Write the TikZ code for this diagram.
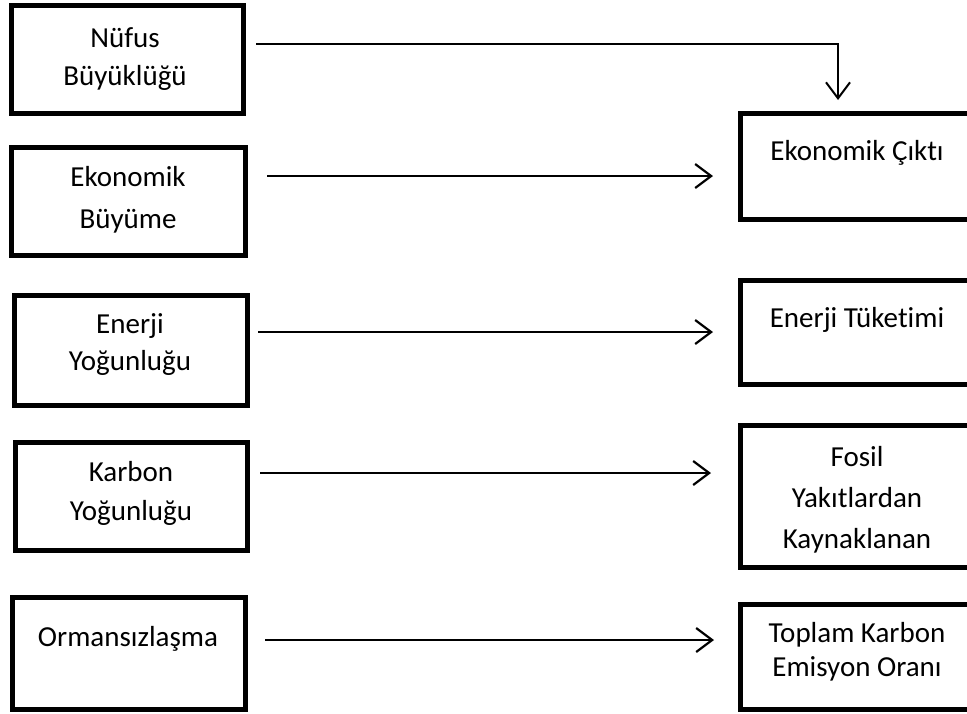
\documentclass[tikz,border=0pt]{standalone}
\usepackage{fontspec}
\setmainfont{Carlito}[Ligatures={NoCommon}]
\usetikzlibrary{arrows.meta}
\tikzset{
  box/.style={draw, line width=5pt, rectangle, inner sep=0pt, line join=miter},
  txt/.style={font=\fontsize{29}{35}\selectfont, anchor=base, inner sep=0pt},
  arr/.style={line width=2.2pt, -{Straight Barb[length=16pt,width=24pt]}},
}
\begin{document}
\begin{tikzpicture}[x=1pt,y=-1pt]
\useasboundingbox (0,0) rectangle (967,713);
\clip (0,0) rectangle (967,713);
\fill[white] (0,0) rectangle (967,713);
% left boxes
\node[box, minimum width=232pt, minimum height=107.5pt] (B1) at (127,59.25) {};
\node[box, minimum width=234pt, minimum height=108pt] (B2) at (128.5,201.5) {};
\node[box, minimum width=233pt, minimum height=110pt] (B3) at (131,350.5) {};
\node[box, minimum width=232pt, minimum height=108pt] (B4) at (131.5,496.5) {};
\node[box, minimum width=233pt, minimum height=112pt] (B5) at (129,653.5) {};
% right boxes
\node[box, minimum width=249.5pt, minimum height=105.5pt] (R1) at (865.25,166.25) {};
\node[box, minimum width=249.5pt, minimum height=104pt] (R2) at (865.25,332.5) {};
\node[box, minimum width=249.5pt, minimum height=142pt] (R3) at (865.25,496.5) {};
\node[box, minimum width=249.5pt, minimum height=105pt] (R4) at (865.25,657) {};
% texts
\node[txt] (t1a) at (125,47) {Nüfus};
\node[txt] (t1b) at (125,85) {Büyüklüğü};
\node[txt] (t2a) at (128,186) {Ekonomik};
\node[txt] (t2b) at (128,228) {Büyüme};
\node[txt] (t3a) at (130,333) {Enerji};
\node[txt] (t3b) at (130,370) {Yoğunluğu};
\node[txt] (t4a) at (131,481) {Karbon};
\node[txt] (t4b) at (131,520) {Yoğunluğu};
\node[txt] (t5a) at (128,646) {Ormansızlaşma};
\node[txt] (r1a) at (857,160) {Ekonomik Çıktı};
\node[txt] (r2a) at (857,327) {Enerji Tüketimi};
\node[txt] (r3a) at (857,466) {Fosil};
\node[txt] (r3b) at (857,507) {Yakıtlardan};
\node[txt] (r3c) at (857,548) {Kaynaklanan};
\node[txt] (r4a) at (857,642) {Toplam Karbon};
\node[txt] (r4b) at (857,676) {Emisyon Oranı};
% connectors
\coordinate (k1) at (838,44);
\coordinate (k2) at (0,176);
\coordinate (k3) at (0,332);
\coordinate (k4) at (0,473);
\coordinate (k5) at (0,640);
\draw[arr, line width=2pt, shorten <=10.5pt, shorten >=11pt] (B1.east |- k1) -- (k1) -- (R1.north -| k1);
\draw[arr, shorten <=19pt, shorten >=25pt] (B2.east |- k2) -- (R1.west |- k2);
\draw[arr, shorten <=8pt, shorten >=25pt] (B3.east |- k3) -- (R2.west |- k3);
\draw[arr, shorten <=10pt, shorten >=27pt] (B4.east |- k4) -- (R3.west |- k4);
\draw[arr, shorten <=17pt, shorten >=24pt] (B5.east |- k5) -- (R4.west |- k5);
\end{tikzpicture}
\end{document}
